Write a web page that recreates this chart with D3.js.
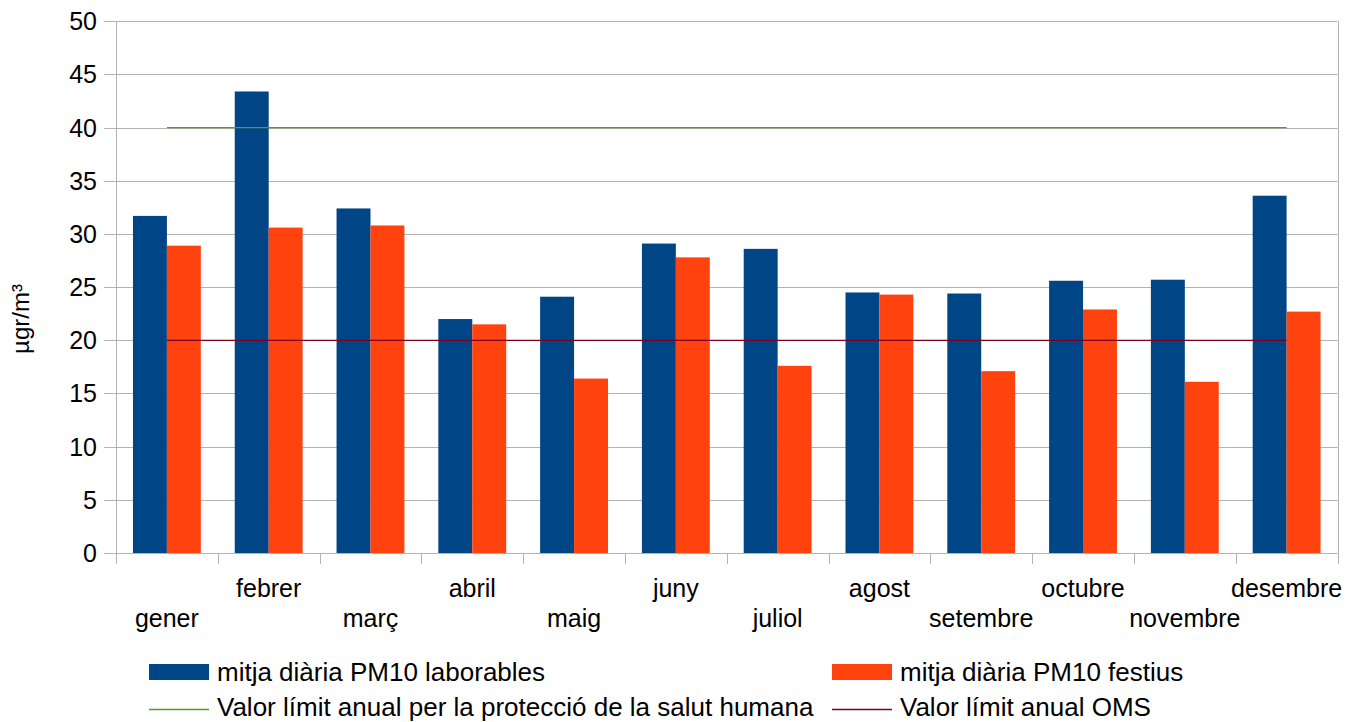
<!DOCTYPE html>
<html>
<head>
<meta charset="utf-8">
<script src="https://cdn.jsdelivr.net/npm/d3@7"></script>
<style>
  body { margin: 0; background: #fff; }
  text { font-family: "Liberation Sans", Arial, sans-serif; fill: #000; }
</style>
</head>
<body>
<script>
  // Months (x categories)
  const months = ["gener", "febrer", "març", "abril", "maig", "juny",
    "juliol", "agost", "setembre", "octubre", "novembre", "desembre"];

  // Series values (µgr/m³)
  const laborables = [31.7, 43.4, 32.4, 22.0, 24.1, 29.1, 28.6, 24.5, 24.4, 25.6, 25.7, 33.6];
  const festius = [28.9, 30.6, 30.8, 21.5, 16.4, 27.8, 17.6, 24.3, 17.1, 22.9, 16.1, 22.7];

  // Reference limits
  const limitUE = 40;
  const limitOMS = 20;

  const yTicks = [0, 5, 10, 15, 20, 25, 30, 35, 40, 45, 50];

  const seriesNames = ["mitja diària PM10 laborables", "mitja diària PM10 festius"];
  const lineNames = ["Valor límit anual per la protecció de la salut humana", "Valor límit anual OMS"];

  const colors = { lab: "#004586", fest: "#ff420e", ue: "#579d1c", oms: "#7e0021" };

  const width = 1347, height = 722;
  const plotLeft = 116, plotRight = 1337.5, plotTop = 21.3, plotBottom = 553;

  const svg = d3.select("body").append("svg")
    .attr("width", width)
    .attr("height", height);

  // Scales
  const x = d3.scaleBand().domain(months).range([plotLeft, plotRight]).padding(0);
  const bw = x.bandwidth();
  const x1 = d3.scaleBand().domain(["lab", "fest"]).range([0, bw])
    .paddingInner(0).paddingOuter(0.5);
  const y = d3.scaleLinear().domain([0, 50]).range([plotBottom, plotTop]);

  // Gridlines
  svg.append("g").selectAll("line")
    .data(yTicks)
    .enter().append("line")
    .attr("x1", plotLeft - 12)
    .attr("x2", plotRight)
    .attr("y1", d => Math.round(y(d)) + 0.5)
    .attr("y2", d => Math.round(y(d)) + 0.5)
    .attr("stroke", "#b3b3b3")
    .attr("stroke-width", 1);

  // Y tick labels
  svg.append("g").selectAll("text")
    .data(yTicks)
    .enter().append("text")
    .attr("x", 97)
    .attr("y", d => y(d))
    .attr("dy", "0.36em")
    .attr("text-anchor", "end")
    .style("font-size", "25px")
    .text(d => d);

  // Axis lines (left + right frame)
  [plotLeft, plotRight].forEach(xx => {
    svg.append("line")
      .attr("x1", Math.round(xx) + 0.5).attr("x2", Math.round(xx) + 0.5)
      .attr("y1", plotTop).attr("y2", plotBottom + 11)
      .attr("stroke", "#b3b3b3");
  });

  // X tick marks at category boundaries
  const bounds = months.map(m => x(m)).concat([plotRight]);
  svg.append("g").selectAll("line")
    .data(bounds)
    .enter().append("line")
    .attr("x1", d => Math.round(d) + 0.5)
    .attr("x2", d => Math.round(d) + 0.5)
    .attr("y1", plotBottom)
    .attr("y2", plotBottom + 11)
    .attr("stroke", "#b3b3b3");

  // Bars
  const groups = svg.append("g").selectAll("g")
    .data(months)
    .enter().append("g")
    .attr("transform", d => `translate(${x(d)},0)`);

  groups.append("rect")
    .attr("x", x1("lab"))
    .attr("width", x1.bandwidth())
    .attr("y", (d, i) => y(laborables[i]))
    .attr("height", (d, i) => y(0) - y(laborables[i]))
    .attr("fill", colors.lab);

  groups.append("rect")
    .attr("x", x1("fest"))
    .attr("width", x1.bandwidth())
    .attr("y", (d, i) => y(festius[i]))
    .attr("height", (d, i) => y(0) - y(festius[i]))
    .attr("fill", colors.fest);

  // Limit lines from first to last category centre
  const xc = m => x(m) + bw / 2;
  const line = d3.line().x(d => xc(d[0])).y(d => y(d[1]));

  svg.append("path")
    .datum(months.map(m => [m, limitUE]))
    .attr("d", line)
    .attr("fill", "none")
    .attr("stroke", colors.ue)
    .attr("stroke-width", 1.4);

  svg.append("path")
    .datum(months.map(m => [m, limitOMS]))
    .attr("d", line)
    .attr("fill", "none")
    .attr("stroke", colors.oms)
    .attr("stroke-width", 1.3);

  // X labels, staggered on two rows
  svg.append("g").selectAll("text")
    .data(months)
    .enter().append("text")
    .attr("x", d => xc(d))
    .attr("y", (d, i) => i % 2 === 1 ? 597 : 627)
    .attr("text-anchor", "middle")
    .style("font-size", "25px")
    .text(d => d);

  // Y axis title
  svg.append("text")
    .attr("transform", "translate(29,319) rotate(-90)")
    .attr("text-anchor", "middle")
    .style("font-size", "24px")
    .text("µgr/m³");

  // Legend
  const legend = svg.append("g");
  const legendItems = [
    { name: seriesNames[0], color: colors.lab, type: "rect", x: 149, y: 672, base: 681 },
    { name: seriesNames[1], color: colors.fest, type: "rect", x: 832, y: 672, base: 681 },
    { name: lineNames[0], color: colors.ue, type: "line", x: 149, y: 709, base: 716 },
    { name: lineNames[1], color: colors.oms, type: "line", x: 832, y: 709, base: 716 },
  ];

  legendItems.forEach(it => {
    if (it.type === "rect") {
      legend.append("rect")
        .attr("x", it.x).attr("y", it.y - 8)
        .attr("width", 60).attr("height", 16)
        .attr("fill", it.color);
    } else {
      legend.append("line")
        .attr("x1", it.x).attr("x2", it.x + 60)
        .attr("y1", it.y + 0.5).attr("y2", it.y + 0.5)
        .attr("stroke", it.color)
        .attr("stroke-width", 1.3);
    }
    legend.append("text")
      .attr("x", it.x + 68)
      .attr("y", it.base)
      .style("font-size", "26px")
      .text(it.name);
  });
</script>
</body>
</html>
